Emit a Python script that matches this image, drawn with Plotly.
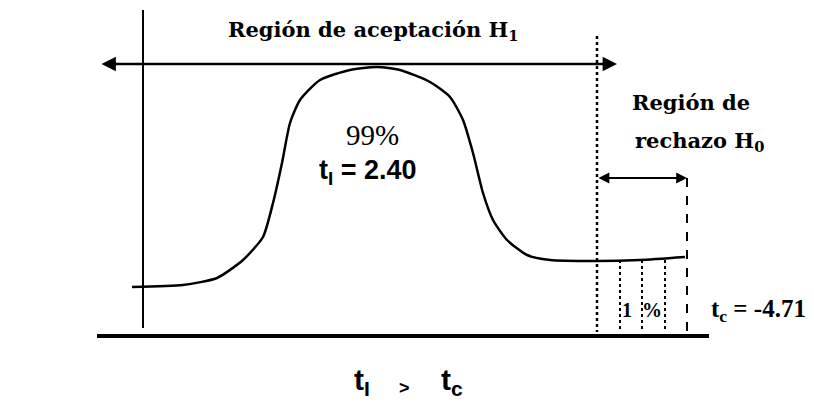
import plotly.graph_objects as go

# curve (pixel-like units, y grows downwards)
curve_x = [132, 183, 217, 243, 263, 273, 282, 290, 300, 320, 350, 377, 400, 430,
           450, 463, 473, 483, 493, 507, 527, 550, 597, 640, 685]
curve_y = [287, 285, 278, 260, 237, 203, 163, 123, 100, 80, 70, 67, 70, 82,
           97, 120, 153, 193, 220, 240, 255, 260, 261, 260, 257]

# reference lines of the diagram
axis_x = [143, 143]
axis_y = [10, 328]
base_x = [97, 709]
base_y = [336, 336]
crit_x = [597, 597]
crit_y = [36, 332]
edge_x = [687, 687]
edge_y = [178, 332]
hatch_x = [620, 642, 665]
hatch_top = 260
hatch_bottom = 332

# the page body has an 8px margin, so the ranges are shifted by it
OFF = 8

fig = go.Figure()

fig.add_trace(go.Scatter(x=curve_x, y=curve_y, mode='lines',
                         line=dict(color='black', width=2.5, shape='spline', smoothing=0.6)))
fig.add_trace(go.Scatter(x=axis_x, y=axis_y, mode='lines', line=dict(color='black', width=2)))
fig.add_trace(go.Scatter(x=base_x, y=base_y, mode='lines', line=dict(color='black', width=4)))
fig.add_trace(go.Scatter(x=crit_x, y=crit_y, mode='lines',
                         line=dict(color='black', width=2.5, dash='dot')))
fig.add_trace(go.Scatter(x=edge_x, y=edge_y, mode='lines',
                         line=dict(color='black', width=2, dash='dash')))
hx, hy = [], []
for h in hatch_x:
    hx += [h, h, None]
    hy += [hatch_top, hatch_bottom, None]
fig.add_trace(go.Scatter(x=hx, y=hy, mode='lines',
                         line=dict(color='black', width=2, dash='dot')))

# double arrows
arrow = dict(xref='x', yref='y', axref='x', ayref='y', text='', showarrow=True,
             arrowhead=2, arrowside='end+start', arrowsize=1.2, arrowwidth=2.4,
             arrowcolor='black')
fig.add_annotation(x=617, y=64, ax=100, ay=64, **arrow)
fig.add_annotation(x=687, y=178, ax=597, ay=178, **dict(arrow, arrowwidth=1.8))

dserif = 'DejaVu Serif'
serif = 'Liberation Serif'
sans = 'Liberation Sans'
texts = [
    (373, 30, '<b>Región de aceptación H<sub>1</sub></b>', dserif, 21),
    (691, 102, '<b>Región de</b>', dserif, 21),
    (699, 141, '<b>rechazo H<sub>0</sub></b>', dserif, 21),
    (372, 135, '99%', serif, 29),
    (368, 172, '<b>t<sub>I</sub> = 2.40</b>', sans, 27),
    (642, 310, '<b>1  %</b>', serif, 20),
    (758, 310, '<b>t<sub>c</sub> = -4.71</b>', serif, 25),
    (362, 381, '<b>t<sub>I</sub></b>', sans, 30),
    (404, 388, '<b>&gt;</b>', sans, 18),
    (452, 381, '<b>t<sub>c</sub></b>', sans, 30),
]
for x, y, t, f, s in texts:
    fig.add_annotation(x=x, y=y, text=t, showarrow=False, xref='x', yref='y',
                       font=dict(family=f, size=s, color='black'))

fig.update_layout(width=814, height=402, margin=dict(l=0, r=0, t=0, b=0),
                  paper_bgcolor='white', plot_bgcolor='white', showlegend=False,
                  xaxis=dict(range=[OFF, 814 + OFF], visible=False, fixedrange=True),
                  yaxis=dict(range=[402 + OFF, OFF], visible=False, fixedrange=True))

fig.write_html("out.html")
